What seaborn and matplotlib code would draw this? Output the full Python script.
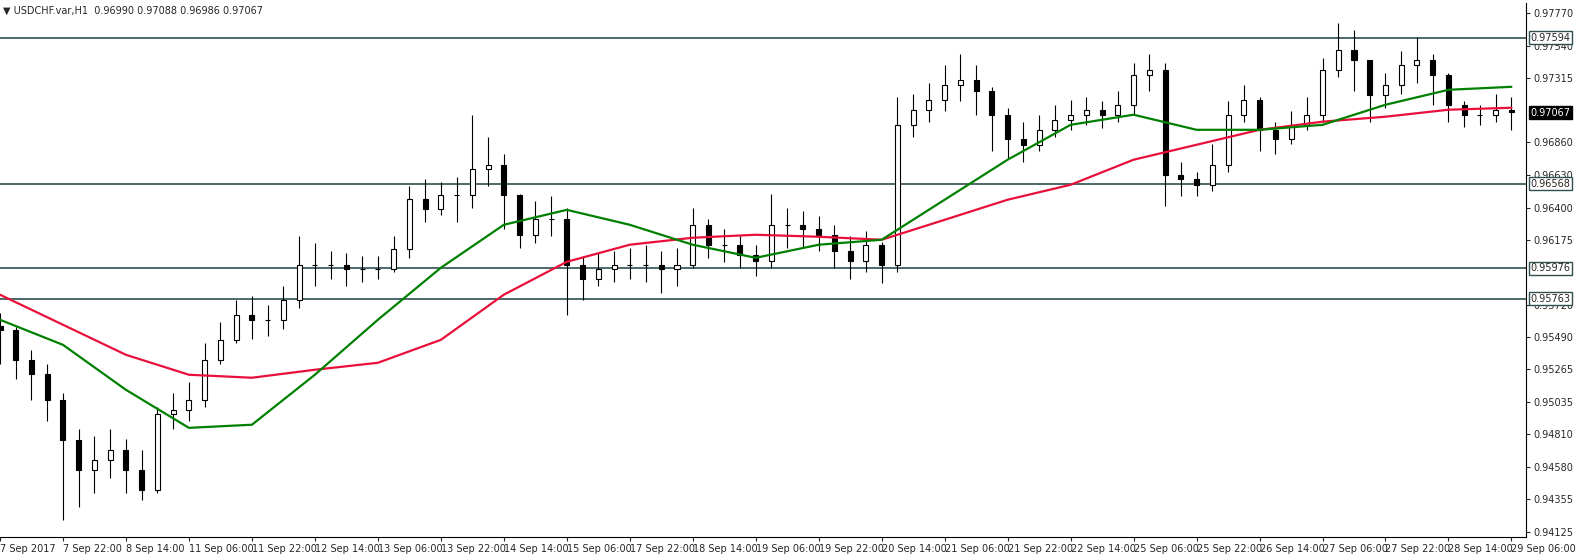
import numpy as np
import pandas as pd
import seaborn as sns
import matplotlib.pyplot as plt

# 4-hour candles (close prices)
closes = [0.9554, 0.9533, 0.9523, 0.9505, 0.9477, 0.9456, 0.9463, 0.9470,
          0.9456, 0.9442, 0.9495, 0.9498, 0.9505, 0.9533, 0.9547, 0.9565,
          0.9561, 0.9561, 0.9575, 0.9600, 0.9600, 0.9600, 0.9597, 0.9597,
          0.9597, 0.9611, 0.9646, 0.9639, 0.9649, 0.9649, 0.9667, 0.9670,
          0.9649, 0.9621, 0.9632, 0.9632, 0.9600, 0.9590, 0.9597, 0.9600,
          0.9600, 0.9600, 0.9597, 0.9600, 0.9628, 0.9614, 0.9614, 0.9607,
          0.9603, 0.9628, 0.9628, 0.9625, 0.9621, 0.9610, 0.9603, 0.9614,
          0.9600, 0.9698, 0.9709, 0.9716, 0.9726, 0.9730, 0.9722, 0.9705,
          0.9688, 0.9684, 0.9695, 0.9702, 0.9705, 0.9709, 0.9705, 0.9712,
          0.9733, 0.9737, 0.9663, 0.9660, 0.9656, 0.9670, 0.9705, 0.9716,
          0.9695, 0.9688, 0.9698, 0.9705, 0.9737, 0.9751, 0.9744, 0.9719,
          0.9726, 0.9740, 0.9744, 0.9733, 0.9712, 0.9705, 0.9705, 0.9709,
          0.9707]
highs = [0.9566, 0.9556, 0.9540, 0.9530, 0.9510, 0.9485, 0.9480, 0.9485,
         0.9478, 0.9470, 0.9500, 0.9510, 0.9518, 0.9545, 0.9560, 0.9575,
         0.9578, 0.9572, 0.9585, 0.9620, 0.9615, 0.9610, 0.9608, 0.9606,
         0.9606, 0.9620, 0.9655, 0.9660, 0.9658, 0.9662, 0.9705, 0.9690,
         0.9678, 0.9650, 0.9645, 0.9648, 0.9640, 0.9606, 0.9608, 0.9610,
         0.9612, 0.9614, 0.9610, 0.9612, 0.9640, 0.9632, 0.9625, 0.9620,
         0.9614, 0.9650, 0.9640, 0.9638, 0.9634, 0.9628, 0.9620, 0.9624,
         0.9616, 0.9718, 0.9720, 0.9728, 0.9740, 0.9748, 0.9740, 0.9725,
         0.9710, 0.9700, 0.9705, 0.9712, 0.9716, 0.9718, 0.9715, 0.9722,
         0.9742, 0.9748, 0.9742, 0.9672, 0.9665, 0.9685, 0.9715, 0.9726,
         0.9718, 0.9700, 0.9708, 0.9718, 0.9745, 0.9770, 0.9765, 0.9740,
         0.9735, 0.9750, 0.9760, 0.9748, 0.9735, 0.9715, 0.9712, 0.9720,
         0.9718]
lows = [0.9530, 0.9520, 0.9505, 0.9490, 0.9421, 0.9430, 0.9440, 0.9450,
        0.9440, 0.9435, 0.9440, 0.9485, 0.9490, 0.9500, 0.9530, 0.9545,
        0.9548, 0.9550, 0.9555, 0.9570, 0.9585, 0.9590, 0.9585, 0.9588,
        0.9590, 0.9595, 0.9605, 0.9630, 0.9635, 0.9630, 0.9640, 0.9655,
        0.9625, 0.9612, 0.9615, 0.9620, 0.9565, 0.9575, 0.9585, 0.9588,
        0.9590, 0.9588, 0.9580, 0.9585, 0.9598, 0.9605, 0.9602, 0.9598,
        0.9592, 0.9598, 0.9612, 0.9612, 0.9610, 0.9598, 0.9590, 0.9595,
        0.9587, 0.9595, 0.9690, 0.9700, 0.9708, 0.9715, 0.9705, 0.9680,
        0.9675, 0.9672, 0.9680, 0.9690, 0.9695, 0.9698, 0.9696, 0.9700,
        0.9705, 0.9722, 0.9641, 0.9648, 0.9648, 0.9652, 0.9665, 0.9700,
        0.9680, 0.9678, 0.9685, 0.9695, 0.9700, 0.9732, 0.9722, 0.9700,
        0.9710, 0.9720, 0.9728, 0.9712, 0.9700, 0.9697, 0.9698, 0.9700,
        0.9695]

# moving averages read at each time label
ma_fast = [0.95614, 0.95438, 0.95122, 0.94855, 0.94877, 0.95228, 0.95614, 0.95979,
           0.96281, 0.96386, 0.96281, 0.96141, 0.96049, 0.96141, 0.96176, 0.96457,
           0.96738, 0.96983, 0.97054, 0.96948, 0.96948, 0.96983, 0.97124, 0.97229, 0.97250]
ma_slow = [0.95790, 0.95579, 0.95368, 0.95228, 0.95207, 0.95263, 0.95312, 0.95473,
           0.95790, 0.96021, 0.96141, 0.96190, 0.96211, 0.96197, 0.96176, 0.96316,
           0.96457, 0.96562, 0.96738, 0.96843, 0.96948, 0.97005, 0.97040, 0.97089, 0.97103]

time_labels = ["7 Sep 2017", "7 Sep 22:00", "8 Sep 14:00", "11 Sep 06:00", "11 Sep 22:00",
               "12 Sep 14:00", "13 Sep 06:00", "13 Sep 22:00", "14 Sep 14:00", "15 Sep 06:00",
               "17 Sep 22:00", "18 Sep 14:00", "19 Sep 06:00", "19 Sep 22:00", "20 Sep 14:00",
               "21 Sep 06:00", "21 Sep 22:00", "22 Sep 14:00", "25 Sep 06:00", "25 Sep 22:00",
               "26 Sep 14:00", "27 Sep 06:00", "27 Sep 22:00", "28 Sep 14:00", "29 Sep 06:00"]
price_ticks = [0.97770, 0.97540, 0.97315, 0.96860, 0.96630, 0.96400, 0.96175,
               0.95720, 0.95490, 0.95265, 0.95035, 0.94810, 0.94580, 0.94355, 0.94125]
levels = [0.97594, 0.96568, 0.95976, 0.95763]
last_price = 0.97067

sns.set_style("white")
fig = plt.figure(figsize=(15.9, 5.58), dpi=100)
ax = fig.add_axes([0, 0.038, 0.96, 0.957])

c = np.array(closes)
o = np.r_[c[0] + 0.0003, c[:-1]]
idx = np.arange(len(c))
up = c >= o
ax.vlines(idx, lows, highs, color="black", lw=0.8, zorder=2)
ax.bar(idx[up], (c - o)[up], bottom=o[up], width=0.32, color="white",
       edgecolor="black", lw=0.8, zorder=3)
ax.bar(idx[~up], (o - c)[~up], bottom=c[~up], width=0.32, color="black",
       edgecolor="black", lw=0.8, zorder=3)

ma = pd.DataFrame({"x": np.arange(len(ma_fast)) * 4, "fast": ma_fast, "slow": ma_slow})
sns.lineplot(data=ma, x="x", y="slow", color="#e8103a", lw=1.6, ax=ax, zorder=4)
sns.lineplot(data=ma, x="x", y="fast", color="#008000", lw=1.6, ax=ax, zorder=4)

for lv in levels:
    ax.axhline(lv, color="#2f4f4f", lw=1.2, zorder=1)
    ax.annotate(f"{lv:.5f}", (1.0, lv), xycoords=("axes fraction", "data"),
                xytext=(3, 0), textcoords="offset points", va="center", fontsize=7,
                bbox=dict(boxstyle="square,pad=0.15", fc="white", ec="#2f4f4f"),
                annotation_clip=False, zorder=10)
ax.annotate(f"{last_price:.5f}", (1.0, last_price), xycoords=("axes fraction", "data"),
            xytext=(3, 0), textcoords="offset points", va="center", fontsize=7,
            color="white", bbox=dict(boxstyle="square,pad=0.15", fc="black", ec="black"),
            annotation_clip=False, zorder=10)

ax.set_xlim(0, 96.95)
ax.set_ylim(0.94090, 0.97840)
ax.set_xticks(np.arange(len(time_labels)) * 4)
ax.set_xticklabels(time_labels, fontsize=7, ha="left")
ax.set_yticks(price_ticks)
ax.set_yticklabels([f"{p:.5f}" for p in price_ticks], fontsize=7)
ax.yaxis.tick_right()
ax.tick_params(length=3, direction="out", pad=2, bottom=True, right=True)
for s in ax.spines.values():
    s.set_color("black")
    s.set_linewidth(0.8)
ax.spines["top"].set_visible(False)
ax.spines["left"].set_visible(False)
ax.set_xlabel("")
ax.set_ylabel("")
fig.text(0.002, 0.99, "\u25bc USDCHF.var,H1  0.96990 0.97088 0.96986 0.97067",
         fontsize=7, va="top")
fig.savefig("out.png", dpi=100)
